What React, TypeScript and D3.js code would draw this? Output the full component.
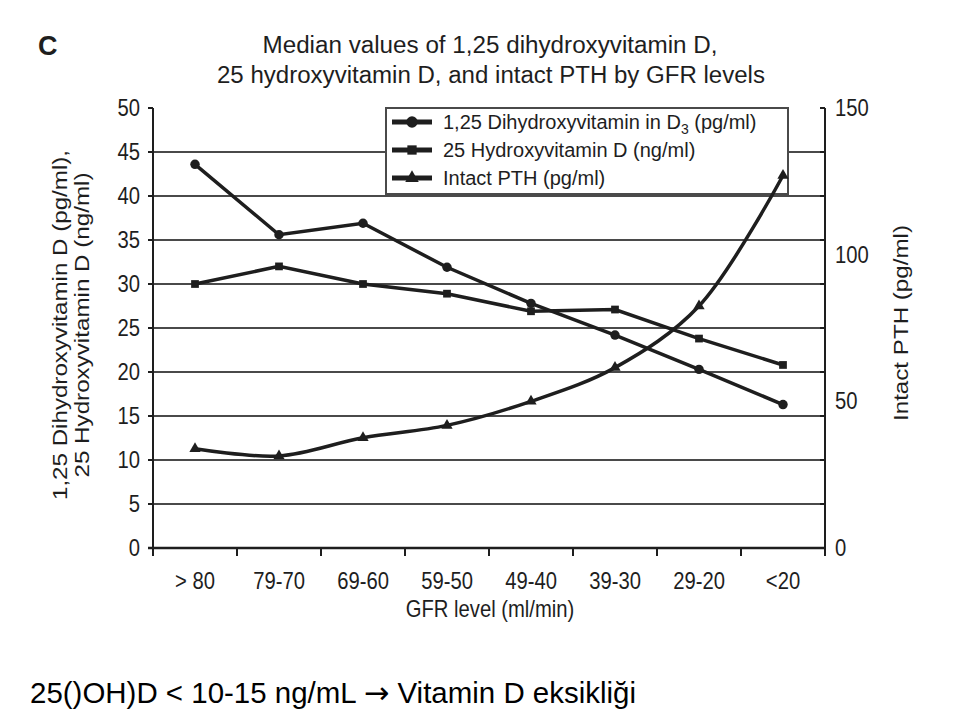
import React from "react";
import * as d3 from "d3";

const categories = ["> 80", "79-70", "69-60", "59-50", "49-40", "39-30", "29-20", "<20"];
const dihydroxy = [43.6, 35.6, 36.9, 31.9, 27.8, 24.2, 20.3, 16.3];
const hydroxy = [30.0, 32.0, 30.0, 28.9, 26.9, 27.1, 23.8, 20.8];
const pth = [33.8, 31.4, 37.6, 41.8, 50.0, 61.5, 82.5, 127.0];
const leftTicks = [0, 5, 10, 15, 20, 25, 30, 35, 40, 45, 50];
const rightTickLabels = [0, 50, 100, 150];
const rightTickMarks = [0, 15, 30, 45, 60, 75, 90, 105, 120, 135, 150];

const W = 959;
const H = 711;
const L = 153, R = 825, T = 108, B = 548;
const INK = "#1e1e1e";
const GRID = "#4a4a4a";
const SANS = "'Liberation Sans', Arial, sans-serif";

function NText(props: {
  x: number; y: number; size: number; sx?: number; anchor?: string; children: React.ReactNode; weight?: string;
}) {
  const sx = props.sx ?? 0.84;
  return (
    <text
      transform={`translate(${props.x},${props.y}) scale(${sx},1)`}
      textAnchor={props.anchor ?? "start"}
      fontFamily={SANS}
      fontSize={props.size}
      fontWeight={props.weight}
      fill={INK}
    >
      {props.children}
    </text>
  );
}

export default function App() {
  const x = d3.scaleBand<string>().domain(categories).range([L, R]);
  const yL = d3.scaleLinear().domain([0, 50]).range([B, T]);
  const yR = d3.scaleLinear().domain([0, 150]).range([B, T]);
  const cx = (c: string) => (x(c) as number) + x.bandwidth() / 2;

  const lineL = d3.line<number>().x((_, i) => cx(categories[i])).y((v) => yL(v));
  const lineR = d3
    .line<number>()
    .x((_, i) => cx(categories[i]))
    .y((v) => yR(v))
    .curve(d3.curveCatmullRom.alpha(0.5));

  const circle = d3.symbol().type(d3.symbolCircle).size(70)() as string;
  const square = d3.symbol().type(d3.symbolSquare).size(60)() as string;
  const tri = d3.symbol().type(d3.symbolTriangle).size(55)() as string;

  const legendItems = [
    { sym: circle, label: "1,25 Dihydroxyvitamin in D", sub: "3", tail: " (pg/ml)" },
    { sym: square, label: "25 Hydroxyvitamin D (ng/ml)", sub: "", tail: "" },
    { sym: tri, label: "Intact PTH (pg/ml)", sub: "", tail: "" },
  ];

  return (
    <svg
      width={W}
      height={H}
      style={{ position: "absolute", left: 0, top: 0, background: "#fff" }}
      xmlns="http://www.w3.org/2000/svg"
    >
      {/* panel letter */}
      <text x={38} y={55} fontFamily={SANS} fontWeight="bold" fontSize={27} fill={INK}>
        C
      </text>
      {/* title */}
      <text x={490} y={53} textAnchor="middle" fontFamily={SANS} fontSize={23} fill={INK}
        textLength={455} lengthAdjust="spacingAndGlyphs">
        Median values of 1,25 dihydroxyvitamin D,
      </text>
      <text x={491} y={83} textAnchor="middle" fontFamily={SANS} fontSize={23} fill={INK}
        textLength={548} lengthAdjust="spacingAndGlyphs">
        25 hydroxyvitamin D, and intact PTH by GFR levels
      </text>

      {/* grid lines */}
      {leftTicks.filter((t) => t > 0 && t < 50).map((t) => (
        <line key={"g" + t} x1={L} x2={R} y1={yL(t)} y2={yL(t)} stroke={GRID} strokeWidth={2.2} />
      ))}
      {/* axes frame */}
      <line x1={L} x2={L} y1={T} y2={B + 8} stroke={INK} strokeWidth={2} />
      <line x1={R} x2={R} y1={T} y2={B + 8} stroke={INK} strokeWidth={2} />
      <line x1={L - 5} x2={R} y1={B} y2={B} stroke={INK} strokeWidth={2.5} />

      {/* left ticks + labels */}
      {leftTicks.map((t) => (
        <g key={"lt" + t}>
          <line x1={L - 5} x2={L} y1={yL(t)} y2={yL(t)} stroke={INK} strokeWidth={2} />
          <NText x={140} y={yL(t) + 8} size={23} anchor="end" sx={0.88}>{t}</NText>
        </g>
      ))}
      {/* right ticks + labels */}
      {rightTickMarks.map((t) => (
        <line key={"rt" + t} x1={R - 5} x2={R} y1={yR(t)} y2={yR(t)} stroke={INK} strokeWidth={2} />
      ))}
      {rightTickLabels.map((t) => (
        <NText key={"rl" + t} x={835} y={yR(t) + 8} size={23} sx={0.88}>{t}</NText>
      ))}
      {/* x ticks + labels */}
      {categories.map((c, i) => (
        <line key={"xt" + i} x1={x(c) as number} x2={x(c) as number} y1={B} y2={B + 8} stroke={INK} strokeWidth={2} />
      ))}
      {categories.map((c) => (
        <NText key={"xl" + c} x={cx(c)} y={589} size={23} anchor="middle" sx={0.88}>{c}</NText>
      ))}
      <NText x={490} y={617} size={23} anchor="middle" sx={0.88}>GFR level (ml/min)</NText>

      {/* left axis title */}
      <g transform="translate(67,325) rotate(-90)">
        <text x={0} y={0} textAnchor="middle" fontFamily={SANS} fontSize={20} fill={INK}
          textLength={350} lengthAdjust="spacingAndGlyphs">
          1,25 Dihydroxyvitamin D (pg/ml),
        </text>
        <text x={0} y={22} textAnchor="middle" fontFamily={SANS} fontSize={20} fill={INK}
          textLength={305} lengthAdjust="spacingAndGlyphs">
          25 Hydroxyvitamin D (ng/ml)
        </text>
      </g>
      {/* right axis title */}
      <g transform="translate(908,323) rotate(-90)">
        <text x={0} y={0} textAnchor="middle" fontFamily={SANS} fontSize={20} fill={INK}
          textLength={196} lengthAdjust="spacingAndGlyphs">
          Intact PTH (pg/ml)
        </text>
      </g>

      {/* legend (drawn under the series) */}
      <g>
        <rect x={386} y={108} width={402} height={86} fill="#fff" stroke={GRID} strokeWidth={2} />
        {legendItems.map((it, i) => {
          const yy = 122 + i * 28;
          return (
            <g key={"lg" + i}>
              <line x1={392} x2={432} y1={yy} y2={yy} stroke={INK} strokeWidth={5} />
              <path d={it.sym} transform={`translate(412,${yy}) scale(1.2)`} fill={INK} />
              <text x={443} y={yy + 7} fontFamily={SANS} fontSize={20} fill={INK}>
                {it.label}
                {it.sub ? (
                  <tspan dy={5} fontSize={14}>{it.sub}</tspan>
                ) : null}
                {it.tail ? <tspan dy={it.sub ? -5 : 0}>{it.tail}</tspan> : null}
              </text>
            </g>
          );
        })}
      </g>

      {/* series */}
      <path d={lineL(dihydroxy) as string} fill="none" stroke={INK} strokeWidth={3.5} />
      <path d={lineL(hydroxy) as string} fill="none" stroke={INK} strokeWidth={3.5} />
      <path d={lineR(pth) as string} fill="none" stroke={INK} strokeWidth={3.5} />
      {dihydroxy.map((v, i) => (
        <path key={"m1" + i} d={circle} transform={`translate(${cx(categories[i])},${yL(v)})`} fill={INK} />
      ))}
      {hydroxy.map((v, i) => (
        <path key={"m2" + i} d={square} transform={`translate(${cx(categories[i])},${yL(v)})`} fill={INK} />
      ))}
      {pth.map((v, i) => (
        <path key={"m3" + i} d={tri} transform={`translate(${cx(categories[i])},${yR(v)})`} fill={INK} />
      ))}

      {/* footer note */}
      <text x={30} y={703} fontFamily={SANS} fontSize={29} fill="#000"
        textLength={606} lengthAdjust="spacingAndGlyphs">
        25()OH)D &lt; 10-15 ng/mL{" "}
        <tspan fontFamily="'DejaVu Sans', sans-serif" fontSize={30}>→</tspan>
        {" "}Vitamin D eksikliği
      </text>
    </svg>
  );
}
